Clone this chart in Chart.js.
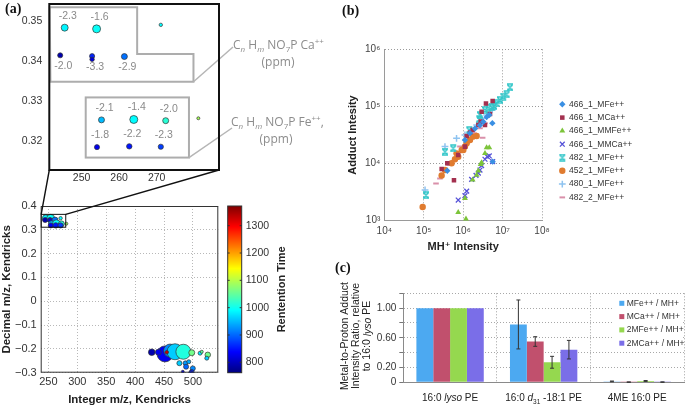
<!DOCTYPE html>
<html>
<head>
<meta charset="utf-8">
<script src="https://cdn.jsdelivr.net/npm/chart.js@4.4.1/dist/chart.umd.min.js"></script>
<style>
  body { margin: 0; background: #fff; }
  #page { position: relative; width: 685px; height: 407px; overflow: hidden; }
  #page canvas { position: absolute; }
  .tag { position: absolute; font: bold 14px "Liberation Serif", serif; color: #111; }
  .note { position: absolute; width: 90px; text-align: center; font: 12px "Open Sans", sans-serif; color: #8c8c8c; line-height: 17px; white-space: nowrap; }
  .note sub, .note sup { font-size: 8px; line-height: 0; }
</style>
</head>
<body>
<div id="page">
  <canvas id="insetChart" width="330" height="190" style="left:0;top:0"></canvas>
  <canvas id="kendrickChart" width="330" height="247" style="left:0;top:160px"></canvas>
  <canvas id="adductChart" width="355" height="260" style="left:330px;top:0"></canvas>
  <canvas id="ratioChart" width="355" height="152" style="left:330px;top:255px"></canvas>
  <div class="tag" style="left:5px;top:1px">(a)</div>
  <div class="tag" style="left:342px;top:3px">(b)</div>
  <div class="tag" style="left:335px;top:260px">(c)</div>
  <div class="note" style="left:233px;top:36px">C<sub><i>n</i></sub> H<sub><i>m</i></sub> NO<sub>7</sub>P Ca<sup>++</sup><br>(ppm)</div>
  <div class="note" style="left:231px;top:113px">C<sub><i>n</i></sub> H<sub><i>m</i></sub> NO<sub>7</sub>P Fe<sup>++</sup>,<br>(ppm)</div>
</div>
<script>
// ---------- (a) Kendrick mass defect plot ----------
// zoomed region (the inset)
const insetMass   = [245.5, 254.0, 271.1, 244.3, 252.8, 252.8, 261.4, 255.3, 263.9, 272.4, 281.1, 254.1, 262.7, 271.1];
const insetDefect = [0.3483, 0.3480, 0.3490, 0.3414, 0.3412, 0.3404, 0.3411, 0.3253, 0.3254, 0.3251, 0.3257, 0.3185, 0.3187, 0.3186];
const insetRT     = [985, 995, 990, 790, 860, 815, 905, 950, 990, 1015, 1090, 830, 850, 875];
const insetAbund  = [19, 25, 4.5, 10, 10, 7.6, 14, 14, 25, 14, 3.5, 10, 11.4, 10.6];
const insetPpm    = [-2.3, -1.6, null, -2.0, -3.3, null, -2.9, -2.1, -1.4, -2.0, null, -1.8, -2.2, -2.3];
const insetMassTicks = [250, 260, 270];
const insetDefectTicks = [0.32, 0.33, 0.34, 0.35];

// second cluster (only in the full view)
const lowMass   = [451.7, 428.7, 440.1, 460.4, 469.0, 483.4, 454.7, 497.9, 512.3, 515.2, 525.6, 523.9, 476.5, 486.9, 492.7, 488.1, 499.7, 497.9, 482.4, 496.2];
const lowDefect = [-0.221, -0.214, -0.214, -0.207, -0.212, -0.212, -0.214, -0.216, -0.218, -0.212, -0.225, -0.239, -0.260, -0.260, -0.254, -0.275, -0.282, -0.296, -0.296, -0.300];
const lowRT     = [830, 790, 830, 920, 960, 1010, 1330, 1060, 980, 1050, 1060, 960, 960, 930, 940, 900, 920, 860, 820, 850];
const lowAbund  = [100, 17, 14, 66, 100, 88, 5, 14, 6.3, 3.5, 12, 6.3, 10, 8.3, 6.3, 10, 10, 8.3, 3.5, 6.3];

const massTicks = [250, 300, 350, 400, 450, 500];
const defectTicks = [-0.3, -0.2, -0.1, 0, 0.1, 0.2, 0.3, 0.4];
const rtTicks = [800, 900, 1000, 1100, 1200, 1300];
const rtMin = 762, rtMax = 1372;

// ---------- (b) adduct vs MH+ intensity ----------
const adductSeries = ['466_1_MFe++', '466_1_MCa++', '466_1_MMFe++', '466_1_MMCa++', '482_1_MFe++', '452_1_MFe++', '480_1_MFe++', '482_2_MFe++'];
const mh466MFe  = [3.96e5, 1.11e6, 1.49e6, 2.0e6, 2.67e6, 3.25e6, 3.94e6, 4.6e6, 5.5e6, 5.6e6];
const ad466MFe  = [7.5e3, 2.59e4, 3.39e4, 4.1e4, 4.7e4, 5.4e4, 6.5e4, 7.1e4, 5.1e4, 1.08e4];
const mh466MCa  = [2.85e5, 3.96e5, 5.85e5, 7.5e5, 1.11e6, 1.23e6, 1.49e6, 1.74e6, 2.43e6, 2.78e6, 2.94e6, 3.58e6, 3.79e6, 4.8e6, 5.6e6];
const ad466MCa  = [8.0e3, 1.01e4, 5.1e3, 1.41e4, 1.98e4, 3.04e4, 3.48e4, 3.87e4, 4.74e4, 5.42e4, 8.1e4, 4.74e4, 1.13e5, 7.4e4, 1.25e5];
const mh466MMFe = [7.5e5, 1.18e6, 1.11e6, 1.74e6, 2.2e6, 2.43e6, 2.78e6, 2.94e6, 3.58e6, 3.94e6, 4.6e6];
const ad466MMFe = [1.4e3, 1.07e3, 2.47e3, 5.2e3, 6.3e3, 7.5e3, 9.7e3, 1.04e4, 1.51e4, 1.9e4, 1.9e4];
const mh466MMCa = [7.5e5, 1.11e6, 1.23e6, 1.64e6, 2.12e6, 2.43e6, 2.67e6, 2.94e6, 3.58e6, 4.1e6, 4.6e6, 5.6e6];
const ad466MMCa = [2.3e3, 2.75e3, 3.3e3, 5.3e3, 6.2e3, 6.8e3, 7.7e3, 9.2e3, 1.19e4, 1.32e4, 1.36e4, 1.08e4];
const mh482MFe  = [1.14e5, 3.46e5, 5.6e5, 1.43e6, 2.57e6, 2.67e6, 3.58e6, 4.35e6, 5.3e6, 6.05e6, 7.1e6, 8.6e6, 1.04e7, 1.27e7, 1.54e7];
const ad482MFe  = [2.8e3, 1.62e4, 1.85e4, 3.87e4, 6.0e4, 7.1e4, 8.7e4, 9.3e4, 9.9e4, 1.02e5, 1.13e5, 1.3e5, 1.49e5, 1.63e5, 2.16e5];
const mh452MFe  = [9.4e4, 2.85e5, 3.46e5, 5.1e5, 6.2e5, 6.8e5, 7.5e5, 9.2e5, 1.01e6, 1.11e6, 1.23e6, 1.49e6, 1.74e6, 2.2e6];
const ad452MFe  = [1.74e3, 6.2e3, 7.7e3, 1.01e4, 1.19e4, 1.51e4, 1.32e4, 1.73e4, 1.73e4, 1.98e4, 2.26e4, 2.59e4, 2.96e4, 3.04e4];
const mh480MFe  = [1.08e5, 3.46e5, 6.8e5, 1.11e6, 2.2e6, 2.94e6, 3.94e6, 5.5e6];
const ad480MFe  = [3.45e3, 1.98e4, 2.77e4, 3.16e4, 4.74e4, 6.2e4, 7.1e4, 8.7e4];
const mh482_2   = [2.05e5, 2.58e5, 4.46e5, 8.3e5, 1.35e6, 1.88e6, 2.67e6, 3.12e6, 3.58e6];
const ad482_2   = [4.5e3, 5.5e3, 9.5e3, 1.98e4, 2.42e4, 3.39e4, 4.14e4, 2.84e4, 5.1e4];
const mhTicks = [1e4, 1e5, 1e6, 1e7, 1e8];
const adductTicks = [1e3, 1e4, 1e5, 1e6];

// ---------- (c) metal-to-proton ratio ----------
const compounds = ['16:0 lyso PE', '16:0 d31 -18:1 PE', '4ME 16:0 PE'];
const ratioSeries = ['MFe++ / MH+', 'MCa++ / MH+', '2MFe++ / MH+', '2MCa++ / MH+'];
const mfeRatio  = [1.00, 0.78, 0.012];
const mcaRatio  = [1.00, 0.55, 0.002];
const mfe2Ratio = [1.00, 0.27, 0.018];
const mca2Ratio = [1.00, 0.44, 0.003];
const mfeErr  = [0, 0.33, 0.005];
const mcaErr  = [0, 0.065, 0.003];
const mfe2Err = [0, 0.08, 0.006];
const mca2Err = [0, 0.125, 0.002];
const ratioTicks = [0, 0.2, 0.4, 0.6, 0.8, 1.0, 1.2];
const ratioTickLabels = ['0', '0.20', '', '0.60', '', '1.00', ''];
const ratioTitle = ['Metal-to-Proton Adduct', 'Intensity Ratio, relative', 'to 16:0 lyso PE'];

// ---------- helpers ----------
const FONT = '"Liberation Sans", "DejaVu Sans", Arial, sans-serif';
Chart.defaults.font.family = FONT;
Chart.defaults.color = '#222';
Chart.defaults.animation = false;

function jet(v) {
  const t = Math.min(1, Math.max(0, (v - rtMin) / (rtMax - rtMin)));
  const c = k => Math.round(255 * Math.min(1, Math.max(0, 1.5 - Math.abs(4 * t - k))));
  return 'rgb(' + c(3) + ',' + c(2) + ',' + c(1) + ')';
}
function fixTicks(list) {
  return s => { s.ticks = list.map(v => ({ value: v })); };
}
// fixed axis box size, no extra room for overhanging labels
function boxSize(w, h) {
  return s => {
    if (w !== null) s.width = w;
    if (h !== null) s.height = h;
    s.paddingTop = s.paddingBottom = s.paddingLeft = s.paddingRight = 0;
  };
}
const SUP = { '0': '\u2070', '1': '\u00b9', '2': '\u00b2', '3': '\u00b3', '4': '\u2074', '5': '\u2075', '6': '\u2076', '7': '\u2077', '8': '\u2078', '9': '\u2079' };
function pow10(v) {
  const e = String(Math.round(Math.log10(v)));
  return '10' + e.split('').map(d => SUP[d]).join('');
}
// split text into runs: "lyso" italic, "d31" -> italic d + subscript
function richSegs(text) {
  const out = [];
  text.split(' ').forEach((w, k) => {
    const sp = k ? ' ' : '';
    const m = w.match(/^d(\d+)$/);
    if (w === 'lyso') { out.push({ t: sp }); out.push({ t: 'lyso', i: true }); }
    else if (m) { out.push({ t: sp }); out.push({ t: 'd', i: true }); out.push({ t: m[1], sub: true }); }
    else out.push({ t: sp + w });
  });
  return out;
}
function drawRich(ctx, text, x, y, size) {
  const segs = richSegs(text);
  const fontOf = s => (s.i ? 'italic ' : '') + (s.sub ? size * 0.65 : size) + 'px ' + FONT;
  let w = 0;
  segs.forEach(s => { ctx.font = fontOf(s); s.w = ctx.measureText(s.t).width; w += s.w; });
  let cx = x - w / 2;
  ctx.textAlign = 'left';
  ctx.textBaseline = 'middle';
  segs.forEach(s => {
    ctx.font = fontOf(s);
    ctx.fillText(s.t, cx, y + (s.sub ? size * 0.35 : 0));
    cx += s.w;
  });
}
function hourglass(color) {
  const c = document.createElement('canvas');
  c.width = 8; c.height = 8;
  const g = c.getContext('2d');
  g.strokeStyle = color; g.lineWidth = 1.6;
  g.beginPath();
  g.moveTo(1.5, 1.5); g.lineTo(6.5, 6.5); g.moveTo(6.5, 1.5); g.lineTo(1.5, 6.5);
  g.moveTo(1, 1); g.lineTo(7, 1); g.moveTo(1, 7); g.lineTo(7, 7);
  g.stroke();
  return c;
}
const quiet = { legend: { display: false }, tooltip: { enabled: false } };

// ---------- (a) inset ----------
new Chart(document.getElementById('insetChart'), {
  type: 'scatter',
  data: {
    datasets: [{
      data: insetMass.map((x, i) => ({ x: x, y: insetDefect[i] })),
      pointRadius: insetAbund.map(a => 0.8 * Math.sqrt(a)),
      pointBackgroundColor: insetRT.map(jet),
      pointBorderColor: '#333',
      pointBorderWidth: 0.7
    }]
  },
  options: {
    responsive: false,
    events: [],
    layout: { autoPadding: false, padding: { left: 0, top: 4, right: 111, bottom: 0 } },
    plugins: quiet,
    scales: {
      x: {
        min: 241.4, max: 286.6,
        afterBuildTicks: fixTicks(insetMassTicks),
        afterFit: boxSize(null, 20),
        grid: { display: false, drawTicks: false },
        border: { display: false },
        ticks: { autoSkip: false, maxRotation: 0, padding: 2, font: { size: 10.5 }, color: '#333' }
      },
      y: {
        min: 0.3128, max: 0.3542,
        afterBuildTicks: fixTicks(insetDefectTicks),
        afterFit: boxSize(49.3, null),
        grid: { display: false, drawTicks: false },
        border: { display: false },
        ticks: { autoSkip: false, padding: 7, font: { size: 10.5 }, color: '#333', callback: v => v.toFixed(2) }
      }
    }
  },
  plugins: [{
    id: 'insetDecor',
    afterDraw(chart) {
      const { ctx, chartArea: a, scales: { x, y } } = chart;
      const P = (mx, my) => [x.getPixelForValue(mx), y.getPixelForValue(my)];
      ctx.save();
      // gray callout boxes
      ctx.strokeStyle = '#adadad';
      ctx.lineWidth = 2;
      const ca = [[241.5, 0.3534], [264.8, 0.3534], [264.8, 0.3417], [279.8, 0.3417], [279.8, 0.3348], [241.7, 0.3348]];
      ctx.beginPath();
      ca.forEach((p, i) => { const q = P(p[0], p[1]); i ? ctx.lineTo(q[0], q[1]) : ctx.moveTo(q[0], q[1]); });
      ctx.closePath(); ctx.stroke();
      const f1 = P(251.1, 0.3309), f2 = P(278.6, 0.3159);
      ctx.strokeRect(f1[0], f1[1], f2[0] - f1[0], f2[1] - f1[1]);
      // leader lines to the notes
      ctx.lineWidth = 1.5;
      ctx.strokeStyle = '#b5b5b5';
      const c1 = P(279.8, 0.3348);
      ctx.beginPath(); ctx.moveTo(c1[0], c1[1]); ctx.lineTo(233, 47); ctx.stroke();
      ctx.beginPath(); ctx.moveTo(f2[0], f2[1]); ctx.lineTo(232, 128); ctx.stroke();
      // ppm labels
      ctx.fillStyle = '#8a8a8a';
      ctx.font = '10.5px ' + FONT;
      ctx.textAlign = 'center';
      ctx.textBaseline = 'middle';
      insetPpm.forEach((v, i) => {
        if (v === null) return;
        const q = P(insetMass[i], insetDefect[i]);
        const below = insetDefect[i] > 0.335 && insetDefect[i] < 0.345;
        ctx.fillText(v.toFixed(1), q[0] + 3, q[1] + (below ? 11 : -12));
      });
      // black frame
      ctx.strokeStyle = '#111';
      ctx.lineWidth = 2;
      ctx.strokeRect(a.left, a.top, a.right - a.left, a.bottom - a.top);
      ctx.restore();
    }
  }]
});

// ---------- (a) full view ----------
const kendrickMass = insetMass.concat(lowMass);
const kendrickDefect = insetDefect.concat(lowDefect);
const kendrickRT = insetRT.concat(lowRT);
const kendrickAbund = insetAbund.concat(lowAbund);

new Chart(document.getElementById('kendrickChart'), {
  type: 'scatter',
  data: {
    datasets: [{
      data: kendrickMass.map((x, i) => ({ x: x, y: kendrickDefect[i] })),
      pointRadius: kendrickAbund.map(a => 0.8 * Math.sqrt(a)),
      pointBackgroundColor: kendrickRT.map(jet),
      pointBorderColor: '#333',
      pointBorderWidth: 0.7
    }]
  },
  options: {
    responsive: false,
    events: [],
    layout: { autoPadding: false, padding: { left: 0, top: 46, right: 111.7, bottom: 0 } },
    plugins: quiet,
    scales: {
      x: {
        min: 236.7, max: 543.8,
        afterBuildTicks: fixTicks(massTicks),
        afterFit: boxSize(null, 34.3),
        grid: { color: '#b8b8b8', drawTicks: false },
        border: { display: false, dash: [1, 2] },
        ticks: { autoSkip: false, maxRotation: 0, padding: 3, font: { size: 11 }, color: '#333' },
        title: { display: true, text: 'Integer m/z, Kendricks', font: { size: 11.5, weight: 'bold' }, color: '#222', padding: { top: 0, bottom: 0.5 } }
      },
      y: {
        min: -0.3, max: 0.4001,
        afterBuildTicks: fixTicks(defectTicks),
        afterFit: boxSize(40.7, null),
        grid: { color: '#b8b8b8', drawTicks: false },
        border: { display: false, dash: [1, 2] },
        ticks: {
          autoSkip: false, z: 1, padding: 4, font: { size: 11 }, color: '#333',
          callback: v => Math.abs(v) < 1e-9 ? '0' : (v < 0 ? '\u2212' + Math.abs(v).toFixed(1) : v.toFixed(1))
        },
        title: { display: true, text: 'Decimal m/z, Kendricks', font: { size: 11.5, weight: 'bold' }, color: '#222', padding: { top: 0, bottom: 0 } }
      }
    }
  },
  plugins: [{
    id: 'kendrickDecor',
    afterDraw(chart) {
      const { ctx, chartArea: a, scales: { x, y } } = chart;
      ctx.save();
      ctx.strokeStyle = '#333';
      ctx.lineWidth = 1;
      ctx.strokeRect(a.left + 0.5, a.top + 0.5, a.right - a.left - 1, a.bottom - a.top - 1);
      // zoom box and the lines up to the inset
      const zx0 = x.getPixelForValue(237.5), zx1 = x.getPixelForValue(280);
      const zy0 = y.getPixelForValue(0.365), zy1 = y.getPixelForValue(0.311);
      ctx.strokeStyle = '#111';
      ctx.strokeRect(zx0, zy0, zx1 - zx0, zy1 - zy0);
      ctx.lineWidth = 1.4;
      ctx.beginPath();
      ctx.moveTo(zx0, zy0); ctx.lineTo(49.3, 10);
      ctx.moveTo(zx1, zy0); ctx.lineTo(219, 10);
      ctx.stroke();
      // colour bar
      const bx0 = 227.7, bx1 = 241.7, top = a.top, bot = a.bottom, h = bot - top;
      for (let py = top; py < bot; py++) {
        ctx.fillStyle = jet(rtMax - (py - top + 0.5) / h * (rtMax - rtMin));
        ctx.fillRect(bx0, py, bx1 - bx0, 1);
      }
      ctx.strokeStyle = '#333';
      ctx.lineWidth = 1;
      ctx.strokeRect(bx0, top, bx1 - bx0, h);
      ctx.fillStyle = '#333';
      ctx.font = '10.5px ' + FONT;
      ctx.textAlign = 'left';
      ctx.textBaseline = 'middle';
      rtTicks.forEach(v => {
        const py = top + (rtMax - v) / (rtMax - rtMin) * h;
        ctx.beginPath();
        ctx.moveTo(bx0, py); ctx.lineTo(bx0 + 2, py);
        ctx.moveTo(bx1 - 2, py); ctx.lineTo(bx1, py);
        ctx.stroke();
        ctx.fillText(String(v), bx1 + 4, py);
      });
      ctx.save();
      ctx.translate(282, top + h / 2);
      ctx.rotate(-Math.PI / 2);
      ctx.textAlign = 'center';
      ctx.font = 'bold 11px ' + FONT;
      ctx.fillStyle = '#222';
      ctx.fillText('Rentention Time', 0, 0);
      ctx.restore();
      ctx.restore();
    }
  }]
});

// ---------- (b) ----------
const mhValues = [mh466MFe, mh466MCa, mh466MMFe, mh466MMCa, mh482MFe, mh452MFe, mh480MFe, mh482_2];
const adductValues = [ad466MFe, ad466MCa, ad466MMFe, ad466MMCa, ad482MFe, ad452MFe, ad480MFe, ad482_2];
const adductStyle = [
  { color: '#3a8fe3', pointStyle: 'rectRot', pointRadius: 3.2, borderWidth: 0 },
  { color: '#a3304f', pointStyle: 'rect', pointRadius: 3.2, borderWidth: 0 },
  { color: '#7cc43a', pointStyle: 'triangle', pointRadius: 3.4, borderWidth: 0 },
  { color: '#5552d8', pointStyle: 'crossRot', pointRadius: 3.4, borderWidth: 1.3 },
  { color: '#33c6c9', pointStyle: hourglass('#33c6c9'), pointRadius: 4, borderWidth: 0 },
  { color: '#e07b2f', pointStyle: 'circle', pointRadius: 3.2, borderWidth: 0 },
  { color: '#8ec3f0', pointStyle: 'cross', pointRadius: 3.4, borderWidth: 1.5 },
  { color: '#d990aa', pointStyle: 'line', pointRadius: 2.8, borderWidth: 2 }
];

new Chart(document.getElementById('adductChart'), {
  type: 'scatter',
  data: {
    datasets: adductSeries.map((name, k) => ({
      label: name,
      data: mhValues[k].map((x, i) => ({ x: x, y: adductValues[k][i] })),
      pointStyle: adductStyle[k].pointStyle,
      pointRadius: adductStyle[k].pointRadius,
      backgroundColor: adductStyle[k].color,
      borderColor: adductStyle[k].color,
      borderWidth: adductStyle[k].borderWidth
    }))
  },
  options: {
    responsive: false,
    events: [],
    layout: { autoPadding: false, padding: { left: 0, top: 49.3, right: 143, bottom: 0 } },
    plugins: quiet,
    scales: {
      x: {
        type: 'logarithmic',
        min: 1e4, max: 1e8,
        afterBuildTicks: fixTicks(mhTicks),
        afterFit: boxSize(null, 39.3),
        grid: { color: '#9a9a9a', drawTicks: false },
        border: { display: true, color: '#9a9a9a', dash: [1, 2] },
        ticks: { autoSkip: false, maxRotation: 0, padding: 5, font: { size: 10 }, color: '#444', callback: v => pow10(v) },
        title: { display: true, text: 'MH\u207a Intensity', font: { size: 11, weight: 'bold' }, color: '#222', padding: { top: 0, bottom: 6 } }
      },
      y: {
        type: 'logarithmic',
        min: 1e3, max: 1e6,
        afterBuildTicks: fixTicks(adductTicks),
        afterFit: boxSize(54.3, null),
        grid: { color: '#9a9a9a', drawTicks: false },
        border: { display: true, color: '#9a9a9a', dash: [1, 2] },
        ticks: { autoSkip: false, padding: 4, font: { size: 10 }, color: '#444', callback: v => pow10(v) },
        title: { display: true, text: 'Adduct Intesity', font: { size: 11, weight: 'bold' }, color: '#222', padding: { top: 16, bottom: 0 } }
      }
    }
  },
  plugins: [{
    id: 'adductLegend',
    afterDraw(chart) {
      const ctx = chart.ctx;
      ctx.save();
      chart.data.datasets.forEach((ds, i) => {
        const yy = 104.3 + i * 13.3;
        ctx.fillStyle = ds.backgroundColor;
        ctx.strokeStyle = ds.borderColor;
        ctx.lineWidth = ds.borderWidth;
        Chart.helpers.drawPoint(ctx, { pointStyle: ds.pointStyle, radius: ds.pointRadius, rotation: 0, borderWidth: ds.borderWidth }, 232.3, yy);
        ctx.fillStyle = '#333';
        ctx.font = '8.5px ' + FONT;
        ctx.textAlign = 'left';
        ctx.textBaseline = 'middle';
        ctx.fillText(ds.label, 239, yy);
      });
      ctx.restore();
    }
  }]
});

// ---------- (c) ----------
const ratioValues = [mfeRatio, mcaRatio, mfe2Ratio, mca2Ratio];
const ratioErrors = [mfeErr, mcaErr, mfe2Err, mca2Err];
const ratioColors = ['#4ca9f1', '#c1506d', '#95d84f', '#7a6ee8'];

new Chart(document.getElementById('ratioChart'), {
  type: 'bar',
  data: {
    labels: compounds,
    datasets: ratioSeries.map((name, k) => ({
      label: name,
      data: ratioValues[k],
      backgroundColor: ratioColors[k],
      barPercentage: 1,
      categoryPercentage: 0.72
    }))
  },
  options: {
    responsive: false,
    events: [],
    layout: { autoPadding: false, padding: { left: 0, top: 38.3, right: 1, bottom: 0 } },
    plugins: quiet,
    scales: {
      x: {
        afterFit: boxSize(null, 24.7),
        grid: { color: '#a0a0a0', drawTicks: false, offset: true },
        border: { display: true, color: '#8a8a8a', dash: [1, 2] },
        ticks: { display: false }
      },
      y: {
        min: 0, max: 1.2,
        afterBuildTicks: fixTicks(ratioTicks),
        afterFit: boxSize(73.3, null),
        grid: { color: '#a8a8a8', drawTicks: true, tickLength: 4, tickColor: '#777', tickBorderDash: [] },
        border: { display: true, color: '#8a8a8a', dash: [1, 2] },
        ticks: { autoSkip: false, padding: 3, font: { size: 10 }, color: '#333', callback: (v, i) => ratioTickLabels[i] }
      }
    }
  },
  plugins: [{
    id: 'ratioDecor',
    afterDatasetsDraw(chart) {
      const { ctx, scales: { y } } = chart;
      ctx.save();
      ctx.strokeStyle = '#333';
      ctx.lineWidth = 1;
      chart.data.datasets.forEach((ds, k) => {
        chart.getDatasetMeta(k).data.forEach((bar, i) => {
          const e = ratioErrors[k][i];
          if (!e) return;
          const v = ratioValues[k][i];
          const y0 = y.getPixelForValue(Math.max(0, v - e)), y1 = y.getPixelForValue(v + e);
          ctx.beginPath();
          ctx.moveTo(bar.x, y0); ctx.lineTo(bar.x, y1);
          ctx.moveTo(bar.x - 2, y0); ctx.lineTo(bar.x + 2, y0);
          ctx.moveTo(bar.x - 2, y1); ctx.lineTo(bar.x + 2, y1);
          ctx.stroke();
        });
      });
      ctx.restore();
    },
    afterDraw(chart) {
      const { ctx, chartArea: a, scales: { x } } = chart;
      ctx.save();
      ctx.fillStyle = '#222';
      compounds.forEach((c, i) => drawRich(ctx, c, x.getPixelForValue(i), a.bottom + 16, 10));
      // rotated axis title
      ctx.translate(15, 81);
      ctx.rotate(-Math.PI / 2);
      ratioTitle.forEach((line, i) => drawRich(ctx, line, 0, i * 11.3, 10.5));
      ctx.restore();
      // legend in the plot
      ctx.save();
      ctx.fillStyle = '#fff';
      ctx.fillRect(283, 41, 70, 56);
      ctx.font = '8.5px ' + FONT;
      ctx.textAlign = 'left';
      ctx.textBaseline = 'middle';
      chart.data.datasets.forEach((ds, i) => {
        const yy = 48.3 + i * 13.3;
        ctx.fillStyle = ds.backgroundColor;
        ctx.fillRect(289.3, yy - 2.5, 5, 5);
        ctx.fillStyle = '#333';
        ctx.fillText(ds.label, 296.7, yy);
      });
      ctx.restore();
    }
  }]
});
</script>
</body>
</html>
